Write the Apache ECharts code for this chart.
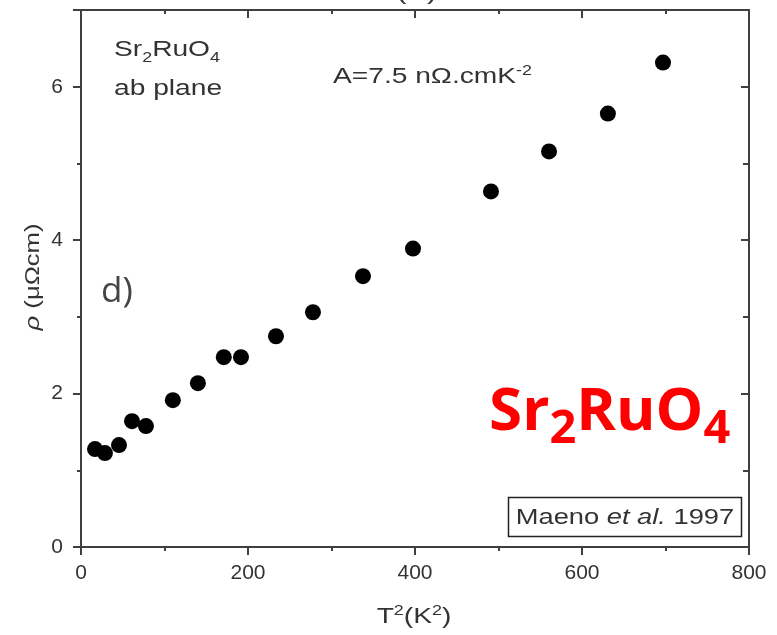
<!DOCTYPE html>
<html>
<head>
<meta charset="utf-8">
<script src="https://cdn.jsdelivr.net/npm/echarts@6/dist/echarts.min.js"></script>
<style>
  html, body { margin: 0; padding: 0; background: #fff; }
  #chart { width: 777px; height: 635px; }
</style>
</head>
<body>
<div id="chart"></div>
<script>
// In-plane resistivity of Sr2RuO4 against T^2
const tSquared = [16.8, 28.7, 45.5, 61.1, 77.8, 110, 140, 171, 191.6, 233.5, 277.8, 337.7, 397.6, 491, 560.5, 631, 697];
const rho = [1.276, 1.224, 1.328, 1.64, 1.576, 1.914, 2.135, 2.474, 2.474, 2.747, 3.06, 3.53, 3.89, 4.635, 5.156, 5.65, 6.315];
const xTicks = { min: 0, max: 800, interval: 200 };
const yTicks = { min: 0, max: 7, interval: 2 };

const points = tSquared.map((x, i) => [x, rho[i]]);

const axisColor = '#3f3f3f';
const textColor = '#333';
const baseFont = 'Liberation Sans, Arial, sans-serif';
const stretch = 1.28;

function axisBase(range) {
  return {
    type: 'value',
    min: range.min,
    max: range.max,
    interval: range.interval,
    axisLine: { show: true, onZero: false, lineStyle: { color: axisColor, width: 2 } },
    splitLine: { show: false },
    minorSplitLine: { show: false }
  };
}

const chart = echarts.init(document.getElementById('chart'), null, { renderer: 'canvas' });

chart.setOption({
  animation: false,
  backgroundColor: '#fff',
  grid: { left: 81, right: 28, top: 10, bottom: 88, containLabel: false },
  xAxis: [
    Object.assign(axisBase(xTicks), {
      position: 'bottom',
      axisTick: { show: true, inside: false, length: 8, lineStyle: { color: axisColor, width: 2 } },
      minorTick: { show: true, splitNumber: 2, length: 4, lineStyle: { color: axisColor, width: 2 } },
      axisLabel: { show: true, margin: 16, fontSize: 21, color: textColor, fontFamily: baseFont }
    }),
    Object.assign(axisBase(xTicks), {
      position: 'top',
      axisTick: { show: true, inside: true, length: 8, lineStyle: { color: axisColor, width: 2 } },
      minorTick: { show: true, splitNumber: 2, length: 4, lineStyle: { color: axisColor, width: 2 } },
      axisLabel: { show: false }
    })
  ],
  yAxis: [
    Object.assign(axisBase(yTicks), {
      position: 'left',
      axisTick: { show: true, inside: false, length: 8, lineStyle: { color: axisColor, width: 2 } },
      minorTick: { show: true, splitNumber: 2, length: 4, lineStyle: { color: axisColor, width: 2 } },
      axisLabel: { show: true, margin: 18, fontSize: 21, color: textColor, fontFamily: baseFont, showMaxLabel: false,
        formatter: v => (v % 2 === 0 ? String(v) : '') }
    }),
    Object.assign(axisBase(yTicks), {
      position: 'right',
      axisTick: { show: true, inside: true, length: 8, lineStyle: { color: axisColor, width: 2 } },
      minorTick: { show: true, splitNumber: 2, length: 6, lineStyle: { color: axisColor, width: 2 } },
      axisLabel: { show: false }
    })
  ],
  series: [{
    type: 'scatter',
    xAxisIndex: 0,
    yAxisIndex: 0,
    data: points,
    symbol: 'circle',
    symbolSize: 16,
    itemStyle: { color: '#000', opacity: 1 }
  }],
  graphic: [
    // top axis title, mostly above the canvas edge
    { type: 'text', x: 403, y: 4, scaleX: stretch,
      style: { text: 'T (K)', fill: textColor, font: '24px ' + baseFont, align: 'center', verticalAlign: 'bottom' } },
    // x axis title
    { type: 'text', x: 414, y: 617, scaleX: stretch,
      style: { text: '{m|T}{s|2}{m|(K}{s|2}{m|)}', align: 'center', verticalAlign: 'middle',
        rich: {
          m: { fontSize: 22, fontFamily: baseFont, fill: textColor, lineHeight: 26 },
          s: { fontSize: 14, fontFamily: baseFont, fill: textColor, verticalAlign: 'top', lineHeight: 10 }
        } } },
    // y axis title
    { type: 'text', x: 33, y: 277, rotation: Math.PI / 2, scaleX: stretch,
      style: { text: '{i|ρ} (μΩcm)', fill: textColor, font: '20px ' + baseFont, align: 'center', verticalAlign: 'middle',
        rich: { i: { fontStyle: 'italic', fontSize: 20, fontFamily: baseFont, fill: textColor } } } },
    // compound and plane
    { type: 'text', x: 114, y: 50, scaleX: stretch,
      style: { text: '{m|Sr}{s|2}{m|RuO}{s|4}', align: 'left', verticalAlign: 'middle',
        rich: {
          m: { fontSize: 22, fontFamily: baseFont, fill: textColor, lineHeight: 30 },
          s: { fontSize: 14, fontFamily: baseFont, fill: textColor, verticalAlign: 'bottom', lineHeight: 8 }
        } } },
    { type: 'text', x: 114, y: 89, scaleX: stretch,
      style: { text: 'ab plane', fill: textColor, font: '22px ' + baseFont, align: 'left', verticalAlign: 'middle' } },
    // coefficient of the T^2 term
    { type: 'text', x: 333, y: 77, scaleX: stretch,
      style: { text: '{m|A=7.5 nΩ.cmK}{s|-2}', align: 'left', verticalAlign: 'middle',
        rich: {
          m: { fontSize: 22, fontFamily: baseFont, fill: textColor, lineHeight: 26 },
          s: { fontSize: 14, fontFamily: baseFont, fill: textColor, verticalAlign: 'top', lineHeight: 8 }
        } } },
    // panel letter
    { type: 'text', x: 101, y: 292,
      style: { text: 'd)', fill: '#444', font: '35px Open Sans, sans-serif', align: 'left', verticalAlign: 'middle' } },
    // large red formula
    { type: 'text', x: 489, y: 373, scaleX: 1.02,
      style: { text: '{m|Sr}{s|2}{m|RuO}{s|4}', align: 'left', verticalAlign: 'top',
        rich: {
          m: { fontSize: 59, fontWeight: 'bold', fontFamily: 'Open Sans, sans-serif', fill: '#ff0000', lineHeight: 80 },
          s: { fontSize: 46, fontWeight: 'bold', fontFamily: 'Open Sans, sans-serif', fill: '#ff0000', lineHeight: 28, verticalAlign: 'bottom' }
        } } },
    // reference box
    { type: 'rect', shape: { x: 508.5, y: 497.5, width: 233, height: 39 },
      style: { fill: '#fff', stroke: '#222', lineWidth: 1.5 } },
    { type: 'text', x: 625, y: 518, scaleX: 1.24,
      style: { text: 'Maeno {i|et al.} 1997', fill: textColor, font: '22px ' + baseFont, align: 'center', verticalAlign: 'middle',
        rich: { i: { fontStyle: 'italic', fontSize: 22, fontFamily: baseFont, fill: textColor } } } }
  ]
});
</script>
</body>
</html>
